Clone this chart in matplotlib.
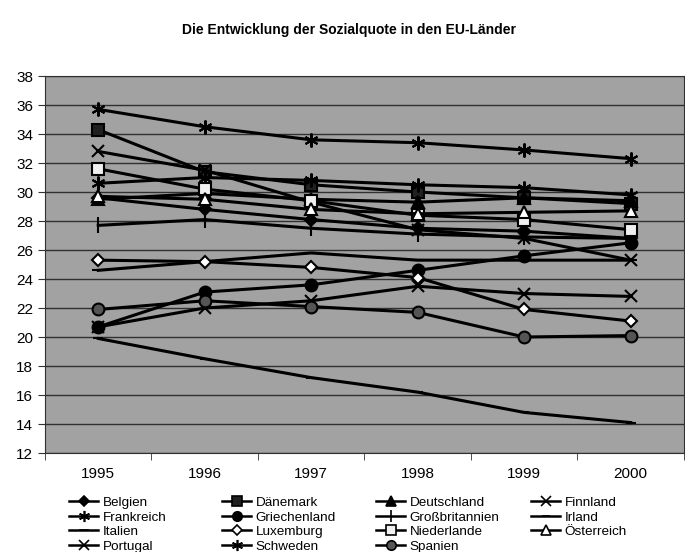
import matplotlib.pyplot as plt
from matplotlib.lines import Line2D

plt.rcParams['font.family'] = ['Liberation Sans', 'DejaVu Sans']

jahre = ['1995', '1996', '1997', '1998', '1999', '2000']

# Sozialquote in %
belgien = [29.6, 28.8, 28.1, 27.5, 27.3, 26.8]
daenemark = [34.3, 31.4, 30.5, 30.0, 29.6, 29.2]
deutschland = [29.5, 29.9, 29.5, 29.3, 29.6, 29.4]
finnland = [32.8, 31.5, 29.3, 27.4, 26.8, 25.3]
frankreich = [30.6, 31.0, 30.8, 30.5, 30.3, 29.8]
griechenland = [20.7, 23.1, 23.6, 24.6, 25.6, 26.5]
grossbritannien = [27.7, 28.1, 27.5, 27.1, 26.9, 26.8]
irland = [19.9, 18.5, 17.2, 16.2, 14.8, 14.1]
italien = [24.6, 25.2, 25.8, 25.3, 25.3, 25.3]
luxemburg = [25.3, 25.2, 24.8, 24.1, 21.9, 21.1]
niederlande = [31.6, 30.2, 29.4, 28.4, 28.1, 27.4]
oesterreich = [29.7, 29.5, 28.8, 28.5, 28.6, 28.7]
portugal = [20.7, 22.0, 22.5, 23.5, 23.0, 22.8]
schweden = [35.7, 34.5, 33.6, 33.4, 32.9, 32.3]
spanien = [21.9, 22.5, 22.1, 21.7, 20.0, 20.1]

# name, werte, marker, fuellfarbe, groesse
reihen = [
    ('Belgien', belgien, 'D', 'black', 6.5),
    ('Dänemark', daenemark, 's', '#202020', 8.5),
    ('Deutschland', deutschland, '^', 'black', 8.5),
    ('Finnland', finnland, 'x', 'black', 8.5),
    ('Frankreich', frankreich, (6, 2, 0), 'black', 10),
    ('Griechenland', griechenland, 'o', 'black', 8.5),
    ('Großbritannien', grossbritannien, '|', 'black', 11),
    ('Irland', irland, '_', 'black', 7),
    ('Italien', italien, '_', 'black', 9),
    ('Luxemburg', luxemburg, 'D', 'white', 6.5),
    ('Niederlande', niederlande, 's', '#f0f0f0', 8.5),
    ('Österreich', oesterreich, '^', 'white', 8.5),
    ('Portugal', portugal, 'x', 'black', 8.5),
    ('Schweden', schweden, (6, 2, 0), 'black', 10),
    ('Spanien', spanien, 'o', '#555555', 8.5),
]

fig = plt.figure(figsize=(6.85, 5.52), dpi=100)
ax = fig.add_axes([0.0657, 0.1793, 0.9328, 0.683])
ax.set_facecolor('#a2a2a2')

x = range(len(jahre))
handles = []
for name, werte, m, fc, ms in reihen:
    ax.plot(x, werte, color='black', lw=2.2, marker=m, markersize=ms,
            markerfacecolor=fc, markeredgecolor='black', markeredgewidth=1.5,
            zorder=3)
    handles.append(Line2D([], [], color='black', lw=1.8, marker=m,
                          markersize=ms * 0.8, markerfacecolor=fc,
                          markeredgecolor='black', markeredgewidth=1.2,
                          label=name))

ax.set_xlim(-0.5, 5.5)
ax.set_ylim(12, 38)
ax.set_yticks(range(12, 39, 2))
ax.set_xticks(list(x))
ax.set_xticklabels(jahre)
ax.set_xticks([i + 0.5 for i in range(-1, 6)], minor=True)
ax.tick_params(axis='x', which='major', length=0, labelsize=11, pad=10)
ax.tick_params(axis='x', which='minor', length=5, color='#333333')
ax.tick_params(axis='y', labelsize=11, length=5, color='#333333')
ax.grid(axis='y', color='#303030', lw=1.0)
ax.set_axisbelow(True)
for s in ax.spines.values():
    s.set_color('#303030')

fig.text(0.51, 0.946, 'Die Entwicklung der Sozialquote in den EU-Länder',
         ha='center', va='center', fontsize=10, fontweight='bold')

# Legende: 4 Spalten, zeilenweise
spalten_x = [62, 215, 369, 524]
for c in range(4):
    hs = handles[c::4]
    fig.legend(handles=hs, loc='upper left',
               bbox_to_anchor=(spalten_x[c] / 685, 1 - 490 / 552),
               frameon=False, fontsize=9.7, handlelength=2.2,
               handletextpad=0.3, labelspacing=0.15, borderpad=0)

fig.savefig('out.png', dpi=100)
